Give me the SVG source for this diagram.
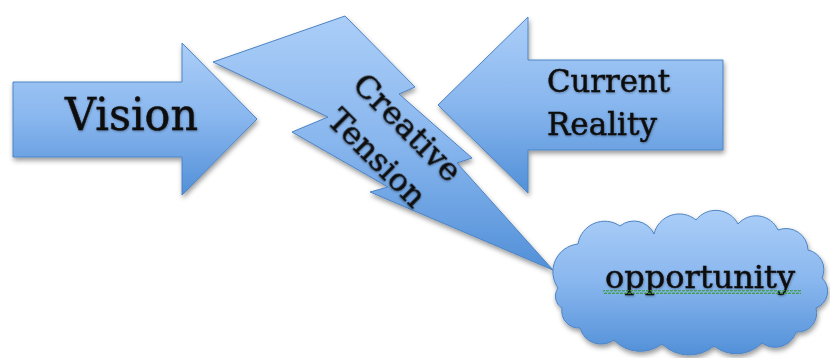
<svg xmlns="http://www.w3.org/2000/svg" width="830" height="358" viewBox="0 0 830 358">
  <defs>
    <linearGradient id="blueFill" x1="0" y1="0" x2="0" y2="1">
      <stop offset="0" stop-color="#abcef8"/>
      <stop offset="0.5" stop-color="#88b6ee"/>
      <stop offset="1" stop-color="#5290d8"/>
    </linearGradient>
    <filter id="shadow" x="-10%" y="-10%" width="125%" height="130%">
      <feDropShadow dx="1" dy="3" stdDeviation="2.5" flood-color="#000" flood-opacity="0.4"/>
    </filter>
    <filter id="textShadow" x="-5%" y="-20%" width="110%" height="150%">
      <feDropShadow dx="0.5" dy="1" stdDeviation="0.8" flood-color="#000" flood-opacity="0.35"/>
    </filter>
    <pattern id="wave" x="0" y="0" width="4" height="4" patternUnits="userSpaceOnUse">
      <path d="M0,3 L1,1 L2,1 L3,3 L4,3" fill="none" stroke="#3a9a30" stroke-width="1.2"/>
    </pattern>
  </defs>
  <style>
    .shape { fill: url(#blueFill); stroke: #4d84c4; stroke-width: 1; filter: url(#shadow); }
    .label { font-family: "DejaVu Serif", "Liberation Serif", serif; fill: #111; stroke: #111; stroke-width: 0.5; filter: url(#textShadow); }
  </style>

  <rect width="830" height="358" fill="#ffffff"/>

  <!-- no connectors: the shapes stand on their own -->
  <g id="connectors"/>

  <!-- Creative Tension: lightning bolt -->
  <g id="creative-tension">
    <polygon class="shape" points="213,62 345,16 415,87 399,94 472,158 457,163 553,270 370,192 388,187 292,132 328,117"/>
    <g transform="translate(392,143) rotate(45)">
      <text class="label" x="0" y="-11" font-size="32" text-anchor="middle" textLength="138" lengthAdjust="spacingAndGlyphs">Creative</text>
      <text class="label" x="0" y="32" font-size="32" text-anchor="middle" textLength="124" lengthAdjust="spacingAndGlyphs">Tension</text>
    </g>
  </g>

  <!-- Vision: right arrow -->
  <g id="vision">
    <polygon class="shape" points="13,82 182,82 182,43 257,119 182,195 182,157 13,157"/>
    <text class="label" x="65" y="130" font-size="44" textLength="133" lengthAdjust="spacingAndGlyphs">Vision</text>
  </g>

  <!-- Current Reality: left arrow -->
  <g id="current-reality">
    <polygon class="shape" points="723,60 528,60 528,17 438,105 528,193 528,150 723,150"/>
    <text class="label" x="547" y="92" font-size="32" textLength="123" lengthAdjust="spacingAndGlyphs">Current</text>
    <text class="label" x="547" y="135" font-size="32" textLength="110" lengthAdjust="spacingAndGlyphs">Reality</text>
  </g>

  <!-- opportunity: cloud -->
  <g id="opportunity">
    <path class="shape" d="M558,288
      A28,28 0 0 1 578,244
      A27,27 0 0 1 620,226
      A22,22 0 0 1 654,234
      A26,26 0 0 1 696,220
      A25,25 0 0 1 738,224
      A24,24 0 0 1 778,230
      A22,22 0 0 1 808,250
      A20,20 0 0 1 822,278
      A18,18 0 0 1 816,308
      A19,19 0 0 1 796,332
      A22,22 0 0 1 762,343
      A36,36 0 0 1 714,346
      A39,39 0 0 1 662,344
      A36,36 0 0 1 614,340
      A22,22 0 0 1 580,328
      A17,17 0 0 1 562,308
      A14,14 0 0 1 558,288 Z"/>
    <text class="label" x="605" y="288" font-size="32" textLength="190" lengthAdjust="spacingAndGlyphs">opportunity</text>
    <rect x="603" y="290" width="198" height="4" fill="url(#wave)"/>
  </g>
</svg>
